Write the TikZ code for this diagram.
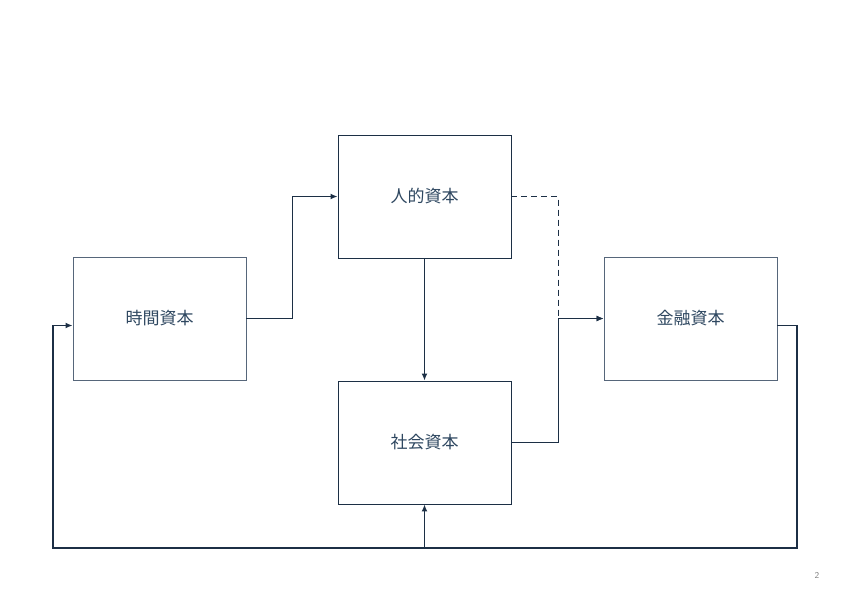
\documentclass[tikz,border=0pt]{standalone}
\usepackage{fontspec}
\newfontfamily\cjk{Noto Sans CJK JP}
\usetikzlibrary{arrows.meta}
\definecolor{ink}{HTML}{1C2F45}
\definecolor{slate}{HTML}{56667A}
\definecolor{txt}{HTML}{2E4760}

\begin{document}
\begin{tikzpicture}[x=1pt,y=-1pt,
  capbox/.style={draw=ink,line width=0.9pt,minimum width=173pt,minimum height=123pt,
    inner sep=0pt,text=txt,font=\cjk\fontsize{17}{20}\selectfont},
  link/.style={draw=ink,line width=1.5pt,-{Latex[length=7pt,width=6pt]}}]
\useasboundingbox (0,0) rectangle (850,590);
% the four kinds of capital
\node[capbox,draw=slate] (time) at (159.5,318.5) {時間資本};
\node[capbox] (human) at (424.5,196.5) {人的資本};
\node[capbox] (social) at (424.5,442.5) {社会資本};
\node[capbox,draw=slate] (fin) at (690.5,318.5) {金融資本};
% return loop along the bottom
\coordinate (rim) at (797,548);
\coordinate (sole) at (53,548);
\draw[link] (time.east) -- ++(46,0) |- (human.west);
\draw[link] (human) -- (social);
\draw[link,dash pattern=on 6pt off 4pt] (human.east) -- ++(47,0) |- (fin.west);
\draw[link] (social.east) -- ++(47,0) |- (fin.west);
\draw[link] ([yshift=-7pt]fin.east) -| (rim) -- (sole) |- ([yshift=-7pt]time.west);
\draw[link] (social.south |- rim) -- (social.south);
\node[text=gray,font=\sffamily\fontsize{9}{10}\selectfont] (pageno) at (817,575) {2};
\end{tikzpicture}
\end{document}
